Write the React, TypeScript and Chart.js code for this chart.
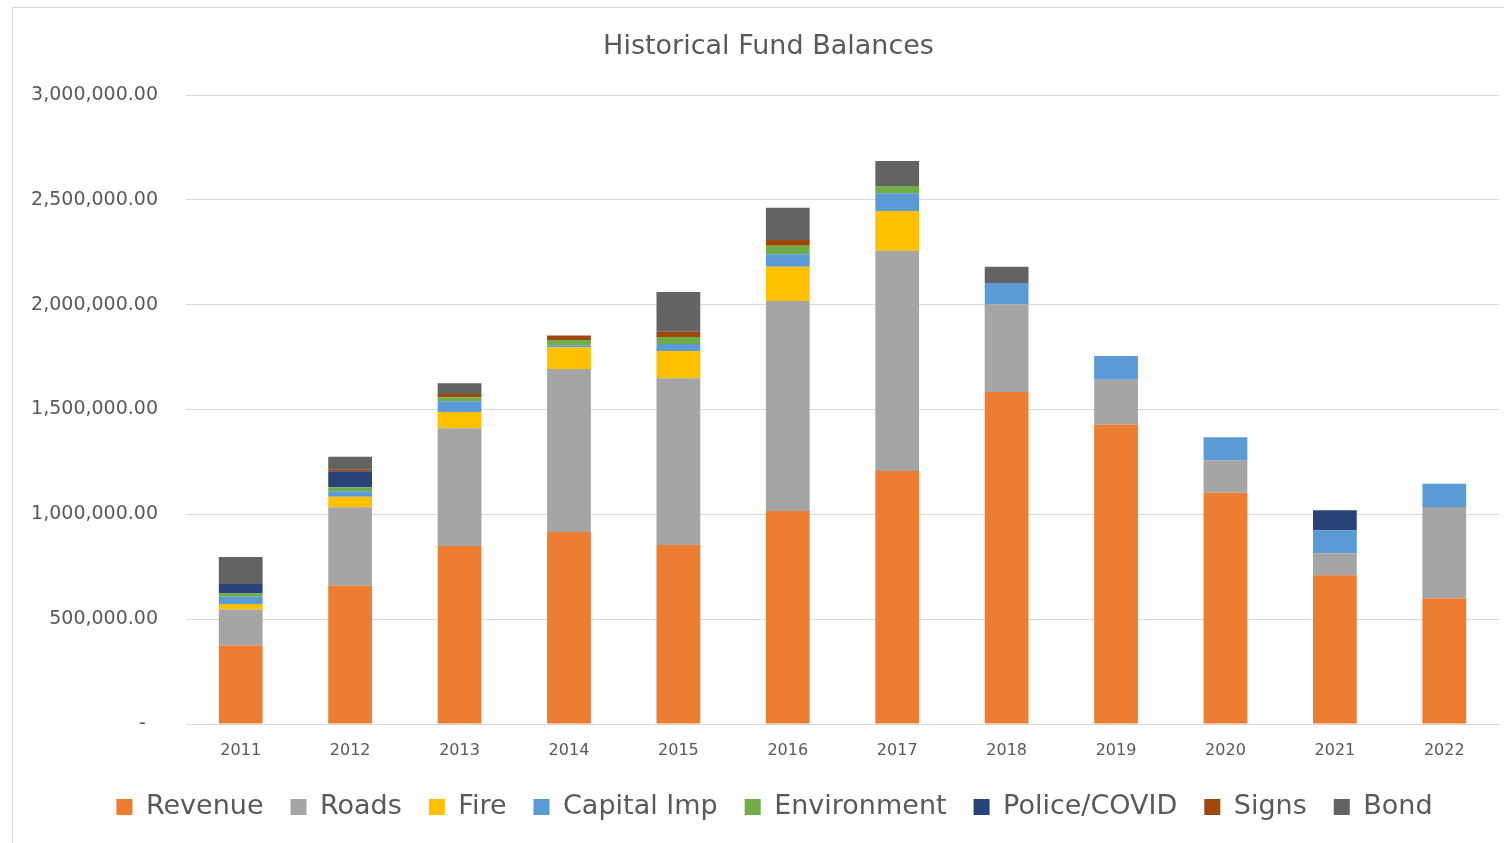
import React, { useEffect, useRef } from "react";
import { Chart, registerables } from "chart.js";

Chart.register(...registerables);

const years = ["2011", "2012", "2013", "2014", "2015", "2016", "2017", "2018", "2019", "2020", "2021", "2022"];
const revenue = [375000, 659600, 849000, 915700, 853700, 1015900, 1206700, 1583500, 1427500, 1103200, 709200, 599500];
const roads = [171700, 373900, 561400, 777400, 795000, 1001600, 1050700, 418300, 214600, 154500, 104900, 435500];
const fire = [25300, 50600, 77700, 103500, 130200, 163600, 189300, 0, 0, 0, 0, 0];
const capitalImp = [35000, 25700, 51000, 9500, 33400, 59100, 84400, 101600, 113000, 109700, 109700, 111100];
const environment = [16000, 19000, 19000, 25000, 33400, 41000, 34800, 0, 0, 0, 0, 0];
const policeCovid = [44500, 76300, 0, 0, 0, 0, 0, 0, 0, 0, 95400, 0];
const signs = [0, 9500, 15700, 22000, 25300, 27200, 0, 0, 0, 0, 0, 0];
const bond = [128800, 60100, 51000, 0, 189300, 154100, 119200, 77700, 0, 0, 0, 0];

const FONT = "'DejaVu Sans', sans-serif";
const TEXT = "#595959";

// Shift the title and legend boxes horizontally so they centre on the frame like the original.
const centerShift = {
  id: "centerShift",
  afterLayout(chart: any) {
    const l = chart.legend;
    if (l) {
      l.left += 25;
      l.right += 25;
    }
    const t = chart.titleBlock;
    if (t) {
      t.left += 19;
      t.right += 19;
    }
  },
};

export default function App() {
  const ref = useRef<HTMLCanvasElement | null>(null);

  useEffect(() => {
    if (!ref.current) return;
    const ds = (label: string, data: number[], color: string) => ({
      label,
      data,
      backgroundColor: color,
      borderWidth: 0,
      categoryPercentage: 1,
      barPercentage: 0.4,
    });
    const chart = new Chart(ref.current, {
      type: "bar",
      data: {
        labels: years,
        datasets: [
          ds("Revenue", revenue, "#ED7D31"),
          ds("Roads", roads, "#A5A5A5"),
          ds("Fire", fire, "#FFC000"),
          ds("Capital Imp", capitalImp, "#5B9BD5"),
          ds("Environment", environment, "#70AD47"),
          ds("Police/COVID", policeCovid, "#264478"),
          ds("Signs", signs, "#9E480E"),
          ds("Bond", bond, "#636363"),
        ],
      },
      plugins: [centerShift],
      options: {
        responsive: false,
        animation: false,
        layout: { padding: { left: 0, right: 5, top: 0, bottom: 12.5 } },
        plugins: {
          tooltip: { enabled: false },
          title: {
            display: true,
            text: "Historical Fund Balances",
            color: TEXT,
            font: { family: FONT, size: 27, weight: "normal" },
            padding: { top: 30.8, bottom: 31.8 },
          },
          legend: {
            position: "bottom",
            labels: {
              color: TEXT,
              font: { family: FONT, size: 27 },
              boxWidth: 16,
              boxHeight: 16,
              padding: 27,
            },
          },
        },
        scales: {
          x: {
            stacked: true,
            grid: { display: false, drawTicks: false },
            border: { display: true, color: "#d9d9d9" },
            ticks: { color: TEXT, font: { family: FONT, size: 16 }, padding: 17 },
            afterFit: (s: any) => {
              s.height = 42.5;
            },
          },
          y: {
            stacked: true,
            min: 0,
            max: 3000000,
            grid: { color: "#d9d9d9", drawTicks: false },
            border: { display: false },
            ticks: {
              stepSize: 500000,
              color: TEXT,
              padding: 28,
              font: { family: FONT, size: 19 },
              callback: (v: any) =>
                Number(v) === 0
                  ? "-  "
                  : Number(v).toLocaleString("en-US", { minimumFractionDigits: 2, maximumFractionDigits: 2 }),
            },
            afterFit: (s: any) => {
              s.width = 186;
            },
          },
        },
      },
    } as any);
    return () => chart.destroy();
  }, []);

  return (
    <div style={{ position: "fixed", left: 0, top: 0, width: 1504, height: 843, overflow: "hidden", background: "#fff" }}>
      <div
        style={{
          position: "absolute",
          left: 12,
          top: 7,
          width: 1560,
          height: 900,
          border: "1px solid #d9d9d9",
          boxSizing: "border-box",
        }}
      />
      <canvas
        ref={ref}
        width={1504}
        height={843}
        style={{ position: "absolute", left: 0, top: 0, width: 1504, height: 843 }}
      />
    </div>
  );
}
